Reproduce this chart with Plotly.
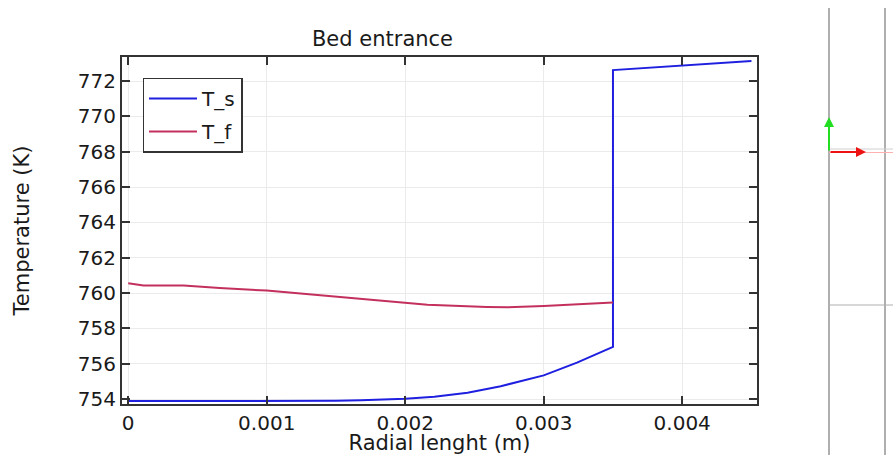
import plotly.graph_objects as go

# ---- data ----
x_ts = [0.0, 0.0005, 0.001, 0.0015, 0.00168, 0.002, 0.00221, 0.00245, 0.00269, 0.003, 0.00324, 0.0035, 0.0035, 0.0045]
T_s = [753.89, 753.88, 753.88, 753.90, 753.93, 754.02, 754.13, 754.36, 754.73, 755.34, 756.06, 756.95, 772.62, 773.14]

x_tf = [0.0, 0.00011, 0.0004, 0.00066, 0.001, 0.00138, 0.00172, 0.002, 0.00216, 0.00259, 0.00274, 0.003, 0.0035]
T_f = [760.56, 760.43, 760.42, 760.28, 760.14, 759.87, 759.65, 759.47, 759.34, 759.21, 759.19, 759.27, 759.46]

x_ticks = [0, 0.001, 0.002, 0.003, 0.004]
x_tick_text = ["0", "0.001", "0.002", "0.003", "0.004"]
y_ticks = [754, 756, 758, 760, 762, 764, 766, 768, 770, 772]

W, H = 893, 455
L, R, T, B = 122, 757, 57, 404  # plot area in pixels
pw, ph = R - L, B - T

def px(xp):
    return (xp - L) / pw

def py(yp):
    return (B - yp) / ph

FONT = "DejaVu Sans"
TXT = "#1a1a1a"
FRAME = "#333333"

fig = go.Figure()
fig.add_trace(go.Scatter(x=x_ts, y=T_s, mode="lines", name="T_s",
                         line=dict(color="#1f1fe0", width=2), legendgroup="a"))
fig.add_trace(go.Scatter(x=x_tf, y=T_f, mode="lines", name="T_f",
                         line=dict(color="#c3305e", width=2), legendgroup="b"))

axis_common = dict(showline=True, linecolor=FRAME, linewidth=2, mirror="ticks",
                   ticks="inside", ticklen=8, tickwidth=1.5, tickcolor=FRAME,
                   showgrid=True, gridcolor="#ebebeb", gridwidth=1, zeroline=False,
                   automargin=False,
                   tickfont=dict(family=FONT, size=20, color=TXT))

fig.update_xaxes(range=[-0.000045, 0.00454], tickvals=x_ticks, ticktext=x_tick_text,
                 title=dict(text="Radial lenght (m)", font=dict(family=FONT, size=21, color=TXT), standoff=0),
                 **axis_common)
fig.update_yaxes(range=[753.72, 773.36], tickvals=y_ticks,
                 title=dict(text="Temperature (K)", font=dict(family=FONT, size=21, color=TXT), standoff=42),
                 **axis_common)

shapes = []
line_grey = dict(color="#7a7a7a", width=1.2)
shapes.append(dict(type="line", xref="paper", yref="paper", x0=px(829), x1=px(829), y0=py(8), y1=py(455), line=line_grey))
shapes.append(dict(type="line", xref="paper", yref="paper", x0=px(885), x1=px(885), y0=py(8), y1=py(455), line=line_grey))
shapes.append(dict(type="line", xref="paper", yref="paper", x0=px(829), x1=px(893), y0=py(305), y1=py(305), line=dict(color="#b0b0b0", width=1.2)))
shapes.append(dict(type="line", xref="paper", yref="paper", x0=px(829), x1=px(893), y0=py(149), y1=py(149), line=dict(color="#d0d0d0", width=1)))
shapes.append(dict(type="line", xref="paper", yref="paper", x0=px(829), x1=px(893), y0=py(152.5), y1=py(152.5), line=dict(color="#ffb0b0", width=1)))

annotations = [
    dict(xref="paper", yref="paper", x=px(829), y=py(117), ax=0, ay=35, axref="pixel", ayref="pixel",
         showarrow=True, arrowhead=2, arrowsize=1, arrowwidth=2, arrowcolor="#22dd22", text=""),
    dict(xref="paper", yref="paper", x=px(866), y=py(152), ax=-37, ay=0, axref="pixel", ayref="pixel",
         showarrow=True, arrowhead=2, arrowsize=1, arrowwidth=2, arrowcolor="#ee1111", text=""),
]

fig.update_layout(
    width=W, height=H,
    margin=dict(l=L, r=W - R, t=T, b=H - B, pad=0, autoexpand=False),
    paper_bgcolor="white", plot_bgcolor="white",
    font=dict(family=FONT, color=TXT),
    title=dict(text="Bed entrance", font=dict(family=FONT, size=21, color=TXT),
               xref="paper", x=px(382.5), xanchor="center",
               yref="container", y=1 - 39 / H, yanchor="middle"),
    legend=dict(x=px(142.5), y=py(77.5), xanchor="left", yanchor="top",
                bordercolor=FRAME, borderwidth=1.5, bgcolor="white", itemwidth=48,
                entrywidth=50, entrywidthmode="pixels",
                font=dict(family=FONT, size=20, color=TXT), tracegroupgap=4),
    shapes=shapes, annotations=annotations,
    showlegend=True,
)

fig.write_html("out.html", config={"displayModeBar": False},
               post_script="document.body.style.margin='0px';document.body.style.overflow='hidden';")
